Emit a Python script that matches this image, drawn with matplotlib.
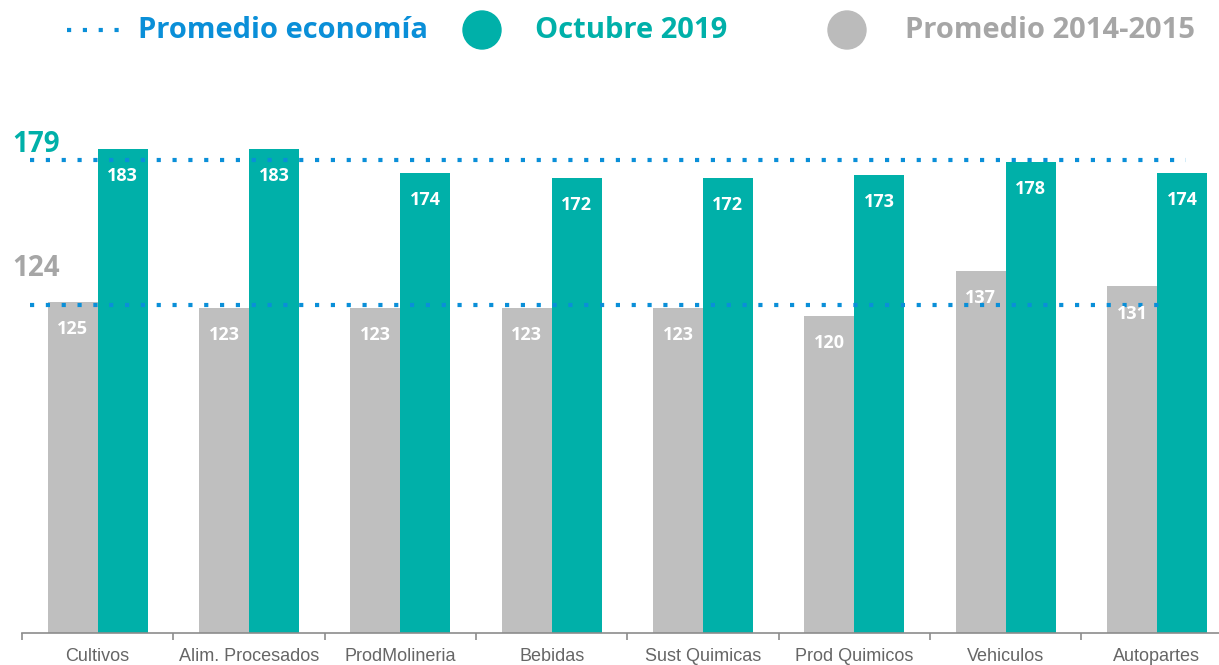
import numpy as np
import matplotlib
matplotlib.use("Agg")
from matplotlib import pyplot as plt
from matplotlib.patches import Ellipse

categories = ["Cultivos", "Alim. Procesados", "ProdMolineria", "Bebidas",
              "Sust Quimicas", "Prod Quimicos", "Vehiculos", "Autopartes"]
avg_2014_2015 = [125, 123, 123, 123, 123, 120, 137, 131]
oct_2019 = [183, 183, 174, 172, 172, 173, 178, 174]
econ_oct_2019 = 179
econ_2014_2015 = 124

TEAL = "#00B0A9"
GREY = "#BFBFBF"
BLUE = "#0A8FD8"
GREY_TXT = "#A6A6A6"
TICK_TXT = "#666666"

W, H = 1219, 665
fig = plt.figure(figsize=(W / 100, H / 100), dpi=100)
# axes placed in pixel terms: baseline at y=633, first group boundary at x=22
ax = fig.add_axes([22 / W, (H - 633) / H, 1 - 22 / W, (633 - 100) / H])
ax.set_xlim(-0.5, 7.41)
ax.set_ylim(0, 201.5)

x = np.arange(len(categories))
bw = 0.33
ax.bar(x - bw / 2, avg_2014_2015, width=bw, color=GREY, zorder=2)
ax.bar(x + bw / 2, oct_2019, width=bw, color=TEAL, zorder=2)

for xi, v in zip(x - bw / 2, avg_2014_2015):
    ax.annotate(str(v), xy=(xi, v), xytext=(0, -19.5), textcoords="offset points",
                ha="center", va="center", color="white", fontsize=13,
                fontweight="bold", family="Open Sans", zorder=4)
for xi, v in zip(x + bw / 2, oct_2019):
    ax.annotate(str(v), xy=(xi, v), xytext=(0, -19.5), textcoords="offset points",
                ha="center", va="center", color="white", fontsize=13,
                fontweight="bold", family="Open Sans", zorder=4)

# economy average reference lines
ax.plot([-0.45, 7.19], [econ_oct_2019, econ_oct_2019], color=BLUE, lw=3,
        dashes=(1, 2.8), dash_capstyle="butt", zorder=3)
ax.plot([-0.45, 7.07], [econ_2014_2015, econ_2014_2015], color=BLUE, lw=3,
        dashes=(1, 2.8), dash_capstyle="butt", zorder=3)
ax.annotate(str(econ_oct_2019), xy=(12, econ_oct_2019), xycoords=("figure pixels", "data"),
            xytext=(0, 11), textcoords="offset points", ha="left", va="center",
            color=TEAL, fontsize=20, fontweight="bold", family="Open Sans")
ax.annotate(str(econ_2014_2015), xy=(12, econ_2014_2015), xycoords=("figure pixels", "data"),
            xytext=(0, 26), textcoords="offset points", ha="left", va="center",
            color=GREY_TXT, fontsize=20, fontweight="bold", family="Open Sans")

# axis styling
for s in ["top", "right", "left"]:
    ax.spines[s].set_visible(False)
ax.spines["bottom"].set_color("#8C8C8C")
ax.spines["bottom"].set_linewidth(1.2)
ax.set_yticks([])
ax.set_xticks(x)
ax.set_xticklabels(categories, fontsize=13, color=TICK_TXT, family="Liberation Sans")
ax.tick_params(axis="x", which="major", length=0, pad=11)
ax.set_xticks(np.arange(-0.5, 7.0, 1.0), minor=True)
ax.tick_params(axis="x", which="minor", length=5, width=1.2, color="#8C8C8C")

# legend drawn by hand at the top
leg_y = 1 - 30 / H
fig.lines.append(plt.Line2D([67 / W, 121 / W], [leg_y, leg_y], transform=fig.transFigure,
                            color=BLUE, lw=3, dashes=(1, 2.8), dash_capstyle="butt"))
fig.text(138 / W, leg_y, "Promedio economía", color=BLUE, fontsize=21, fontweight="bold",
         family="Open Sans", ha="left", va="center")
fig.patches.append(Ellipse((482 / W, leg_y), 38 / W, 38 / H, transform=fig.transFigure,
                           color=TEAL))
fig.text(535 / W, leg_y, "Octubre 2019", color=TEAL, fontsize=21, fontweight="bold",
         family="Open Sans", ha="left", va="center")
fig.patches.append(Ellipse((847 / W, leg_y), 38 / W, 38 / H, transform=fig.transFigure,
                           color="#BBBBBB"))
fig.text(905 / W, leg_y, "Promedio 2014-2015", color=GREY_TXT, fontsize=21, fontweight="bold",
         family="Open Sans", ha="left", va="center")

fig.savefig("out.png", dpi=100)
